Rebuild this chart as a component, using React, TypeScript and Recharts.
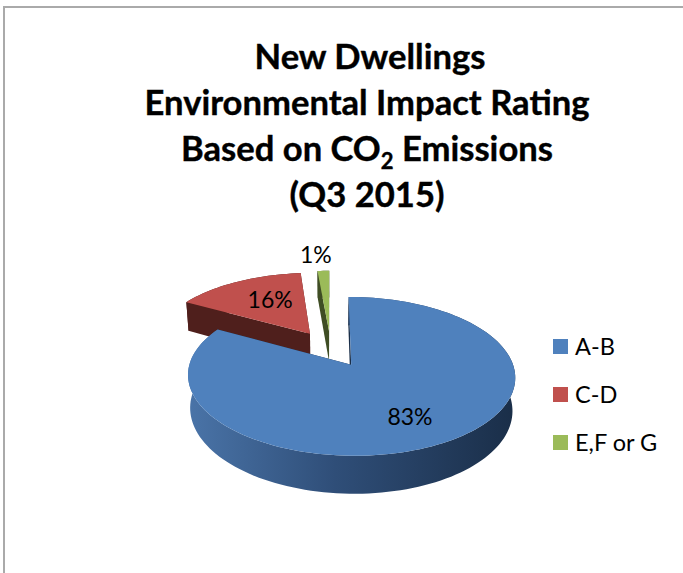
import React from 'react';
import { PieChart, Pie, Legend } from 'recharts';

// drawn back to front: the big slice has to paint over the two exploded ones
const categories = ['E,F or G', 'C-D', 'A-B'];
const shares = [1.4, 15.5, 83.1];
const colors = ['#9bbb59', '#c0504d', '#4f81bd'];
const sideColors = ['#3f4d24', '#4f1f1c', 'url(#blueSide)'];

const titleLines = ['New Dwellings', 'Environmental Impact Rating', 'Based on CO|2| Emissions', '(Q3 2015)'];

const data = categories.map((name, i) => ({ name, value: shares[i], fill: colors[i], side: sideColors[i] }));

const font = 'Lato, Carlito, Calibri, sans-serif';
const EXPLODE = 0.25;
const TILT = 0.466;
const PERSPECTIVE = 0.14;
const DEPTH = 31.5;

const rad = (deg: number) => (deg * Math.PI) / 180;

// flat pie plane (p right, q towards the viewer) onto the screen
function project(cx: number, cy: number, r: number, p: number, q: number, drop = 0) {
  const w = 1 - PERSPECTIVE * q;
  const shrink = drop ? 0.985 : 1;
  return {
    x: cx + (r * p * shrink) / w,
    y: cy + (r * TILT * q + drop) / w,
  };
}

function explodeOffset(midAngle: number) {
  return { p: EXPLODE * Math.cos(rad(midAngle)), q: -EXPLODE * Math.sin(rad(midAngle)) };
}

function toPath(points: { x: number; y: number }[]) {
  return 'M' + points.map((pt) => `${pt.x.toFixed(2)},${pt.y.toFixed(2)}`).join('L') + 'Z';
}

function Slice3D(props: any) {
  const { cx, cy, outerRadius, startAngle, endAngle, midAngle, fill, payload } = props;
  const off = explodeOffset(midAngle);
  const rim: { p: number; q: number }[] = [];
  const steps = Math.max(4, Math.ceil(Math.abs(endAngle - startAngle) / 2));
  for (let i = 0; i <= steps; i++) {
    const a = rad(startAngle + ((endAngle - startAngle) * i) / steps);
    rim.push({ p: off.p + Math.cos(a), q: off.q - Math.sin(a) });
  }
  const at = (pt: { p: number; q: number }, drop = 0) => project(cx, cy, outerRadius, pt.p, pt.q, drop);

  const top = toPath([at(off), ...rim.map((pt) => at(pt))]);
  const outerWall = toPath([...rim.map((pt) => at(pt)), ...rim.slice().reverse().map((pt) => at(pt, DEPTH))]);
  const first = rim[0];
  const last = rim[rim.length - 1];
  const wallA = toPath([at(off), at(first), at(first, DEPTH), at(off, DEPTH)]);
  const wallB = toPath([at(off), at(last), at(last, DEPTH), at(off, DEPTH)]);

  return (
    <g>
      <defs>
        <linearGradient id="blueSide" x1="0" y1="0" x2="1" y2="0">
          <stop offset="0" stopColor="#4a74a8" />
          <stop offset="0.45" stopColor="#2f4e78" />
          <stop offset="1" stopColor="#1a2e48" />
        </linearGradient>
      </defs>
      <path d={outerWall} fill={payload.side} />
      <path d={wallA} fill={payload.name === 'A-B' ? '#1a2e48' : payload.side} />
      <path d={wallB} fill={payload.name === 'A-B' ? '#1a2e48' : payload.side} />
      <path d={top} fill={fill} />
    </g>
  );
}

function SliceLabel(props: any) {
  const { cx, cy, outerRadius, midAngle, percent } = props;
  const off = explodeOffset(midAngle);
  // thin slice label sits outside, the others inside
  const f = percent < 0.05 ? 1.33 : percent > 0.5 ? 0.7 : 0.58;
  const mid = percent > 0.05 && percent < 0.5;
  const dx = mid ? 4 : -6;
  const dy = mid ? -3 : 0;
  const p = off.p + f * Math.cos(rad(midAngle));
  const q = off.q - f * Math.sin(rad(midAngle));
  const pos = project(cx, cy, outerRadius, p, q);
  return (
    <text x={pos.x + dx} y={pos.y + dy} textAnchor="middle" dominantBaseline="central" fontFamily={font} fontSize={23} fill="#000">
      {`${Math.round(percent * 100)}%`}
    </text>
  );
}

function LegendBox({ payload }: any) {
  return (
    <div>
      {(payload || []).map((entry: any) => (
        <div key={entry.value} style={{ display: 'flex', alignItems: 'center', height: 48 }}>
          <span style={{ width: 15, height: 15, background: entry.color, marginRight: 7 }} />
          <span style={{ fontFamily: font, fontSize: 23.5, color: '#000' }}>{entry.value}</span>
        </div>
      ))}
    </div>
  );
}

function Title() {
  return (
    <div
      style={{
        position: 'absolute',
        left: 67,
        top: 33,
        width: 600,
        textAlign: 'center',
        fontFamily: font,
        fontWeight: 700,
        fontSize: 34.6,
        lineHeight: '46px',
        color: '#000',
        WebkitTextStroke: '0.4px #000',
      }}
    >
      {titleLines.map((line, i) => {
        const [a, sub, b] = line.split('|');
        return (
          <div key={line} style={{ paddingLeft: i === 0 ? 6 : 0 }}>
            {a}
            {sub && <sub style={{ fontSize: 22, lineHeight: 0 }}>{sub}</sub>}
            {b}
          </div>
        );
      })}
    </div>
  );
}

export default function App() {
  return (
    <div style={{ position: 'absolute', left: 0, top: 0, width: 683, height: 573, background: '#fff', overflow: 'hidden' }}>
      <div
        style={{
          position: 'absolute',
          left: 3,
          top: 6,
          width: 700,
          height: 600,
          borderTop: '2px solid #aaa',
          borderLeft: '2px solid #aaa',
        }}
      />
      <Title />
      <div style={{ position: 'absolute', left: 0, top: 0 }}>
        <PieChart width={683} height={573}>
          <Pie
            data={data}
            dataKey="value"
            nameKey="name"
            cx={325.7}
            cy={343.6}
            outerRadius={157}
            startAngle={90}
            endAngle={450}
            stroke="none"
            shape={Slice3D}
            label={SliceLabel}
            labelLine={false}
            isAnimationActive={false}
          />
          <Legend content={LegendBox} wrapperStyle={{ left: 553, top: 322, width: 130 }} />
        </PieChart>
      </div>
    </div>
  );
}
